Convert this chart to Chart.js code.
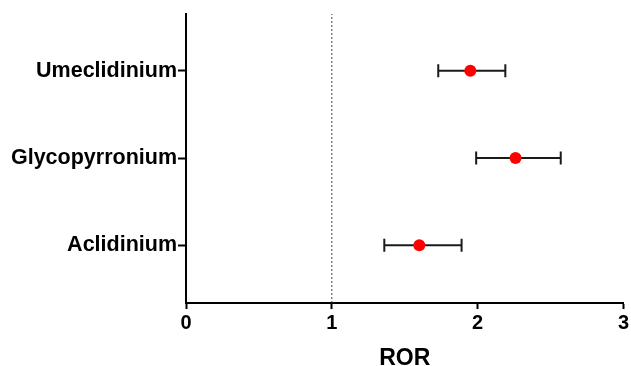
<!DOCTYPE html>
<html lang="en">
<head>
  <meta charset="UTF-8" />
  <title>ROR forest plot</title>
  <script src="https://cdn.jsdelivr.net/npm/chart.js"></script>
  <style>
    body { margin: 0; background: #fff; }
    .wrap { width: 631px; height: 366px; }
  </style>
</head>
<body>
  <div class="wrap"><canvas id="chart" width="631" height="366"></canvas></div>
  <script>
    // rows from bottom to top
    const drugs = ["Aclidinium", "Glycopyrronium", "Umeclidinium"];
    const ror = [1.60, 2.26, 1.95];
    const lower = [1.36, 1.99, 1.73];
    const upper = [1.89, 2.57, 2.19];
    const xTicks = [0, 1, 2, 3];
    const refLine = 1;

    const rowPos = drugs.map((d, i) => i + 1);
    const yMin = 0.34, yMax = 3.65;

    const datasets = [];

    // red point estimates (first = drawn on top)
    datasets.push({
      data: ror.map((v, i) => ({ x: v, y: rowPos[i] })),
      showLine: false,
      pointRadius: 6,
      pointBackgroundColor: '#ff0000',
      pointBorderWidth: 0
    });

    // whiskers with caps
    drugs.forEach((d, i) => {
      datasets.push({
        data: [{ x: lower[i], y: rowPos[i] }, { x: upper[i], y: rowPos[i] }],
        showLine: true,
        borderColor: '#1a1a1a',
        borderWidth: 2,
        pointStyle: 'line',
        rotation: 90,
        pointRadius: 6.5,
        pointBorderWidth: 2,
        pointBorderColor: '#1a1a1a'
      });
    });

    // dotted reference line at ROR = 1
    datasets.push({
      data: [{ x: refLine, y: yMin }, { x: refLine, y: yMax }],
      showLine: true,
      borderColor: '#444',
      borderWidth: 1,
      borderDash: [2, 2],
      pointRadius: 0
    });

    const boldFont = (size) => ({ family: "'Liberation Sans', Arial, sans-serif", weight: 'bold', size: size });

    new Chart(document.getElementById('chart'), {
      type: 'scatter',
      data: { datasets: datasets },
      options: {
        responsive: false,
        animation: false,
        // no auto padding: the "3" label hangs off the right edge like the original
        layout: { autoPadding: false, padding: { top: 11, right: 6, left: 0, bottom: 0 } },
        plugins: { legend: { display: false }, tooltip: { enabled: false } },
        scales: {
          x: {
            type: 'linear',
            min: 0,
            max: 3,
            afterBuildTicks: s => { s.ticks = xTicks.map(v => ({ value: v })); },
            afterFit: s => { s.height = 63; },
            ticks: { color: '#000', font: boldFont(20), padding: 2, maxRotation: 0 },
            grid: { display: true, drawOnChartArea: false, drawTicks: true, tickLength: 6, tickWidth: 2, tickColor: '#000' },
            border: { display: true, width: 2, color: '#000' },
            title: { display: true, text: 'ROR', color: '#000', font: { ...boldFont(23), lineHeight: 0.65 }, padding: 0 }
          },
          y: {
            type: 'linear',
            min: yMin,
            max: yMax,
            afterBuildTicks: s => { s.ticks = rowPos.map(v => ({ value: v })); },
            afterFit: s => { s.width = 186; },
            ticks: {
              color: '#000',
              font: boldFont(21.5),
              padding: 1,
              callback: v => drugs[Math.round(v) - 1]
            },
            grid: { display: true, drawOnChartArea: false, drawTicks: true, tickLength: 8, tickWidth: 2, tickColor: '#000' },
            border: { display: true, width: 2, color: '#000' }
          }
        }
      }
    });
  </script>
</body>
</html>
